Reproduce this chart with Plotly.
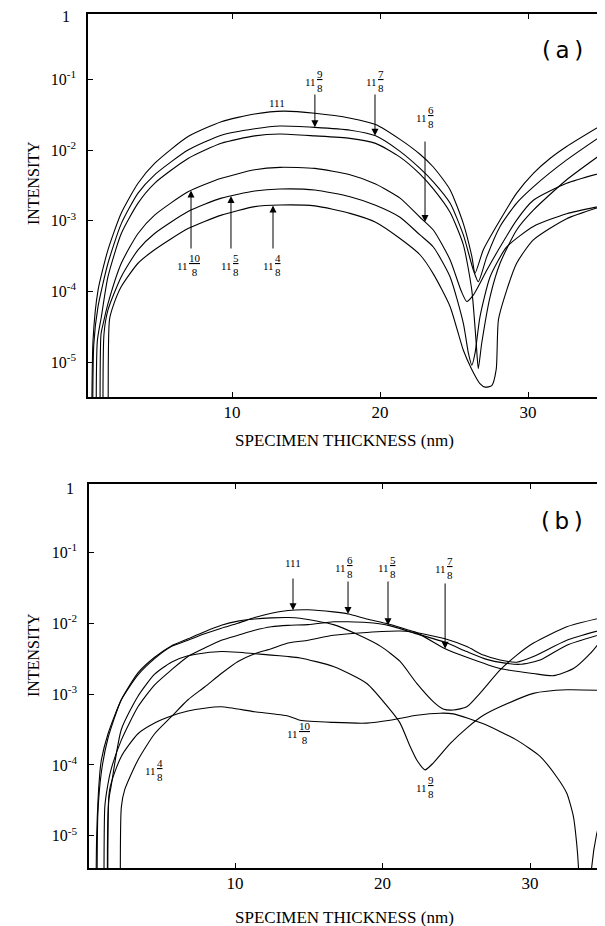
import numpy as np
import plotly.graph_objects as go

# ---------------- Panel (a): log10(intensity) vs specimen thickness (nm) ----------------
a_111_x = [0.50, 0.61, 0.95, 1.62, 2.52, 3.65, 4.77, 7.03, 9.28, 11.53, 13.5, 15.6, 18.0, 19.7, 21.35, 22.7, 23.6, 24.73, 25.63, 26.2, 26.42, 26.98, 28.11, 29.23, 30.36, 31.48, 32.61, 35.2]
a_111_log = [-7, -4.69, -3.98, -3.41, -2.89, -2.47, -2.19, -1.81, -1.60, -1.49, -1.45, -1.48, -1.55, -1.64, -1.85, -2.06, -2.24, -2.56, -3.04, -3.50, -3.74, -3.41, -2.99, -2.61, -2.33, -2.12, -1.95, -1.62]

a_98_x = [0.57, 0.66, 0.95, 1.62, 2.52, 3.65, 4.77, 7.03, 9.28, 11.53, 13.24, 15.6, 18.0, 19.7, 21.35, 22.7, 23.6, 24.73, 25.63, 26.31, 26.64, 27.21, 28.11, 29.23, 30.36, 32.61, 35.2]
a_98_log = [-7, -4.75, -4.21, -3.60, -3.04, -2.61, -2.35, -2.00, -1.79, -1.70, -1.66, -1.68, -1.72, -1.80, -2.02, -2.26, -2.45, -2.75, -3.20, -3.70, -3.86, -3.51, -3.08, -2.75, -2.52, -2.14, -1.765]

a_78_x = [0.83, 0.9, 1.17, 1.62, 2.52, 3.65, 4.77, 7.03, 9.28, 11.53, 13.24, 15.6, 17.97, 19.7, 21.35, 22.7, 23.6, 24.73, 25.63, 26.2, 26.5, 26.64, 26.87, 27.44, 28.11, 29.23, 30.36, 32.61, 35.2]
a_78_log = [-7, -4.7, -4.36, -3.79, -3.18, -2.75, -2.47, -2.12, -1.905, -1.80, -1.774, -1.80, -1.835, -1.906, -2.10, -2.34, -2.55, -2.88, -3.34, -3.98, -4.73, -5.09, -4.73, -4.07, -3.60, -3.13, -2.85, -2.42, -2.02]

a_108_x = [1.1, 1.15, 1.3, 1.62, 2.52, 3.65, 4.77, 7.03, 9.28, 11.53, 13.24, 15.6, 17.97, 19.7, 21.35, 22.7, 23.6, 24.73, 25.5, 25.86, 26.3, 27.21, 28.11, 29.23, 30.36, 32.61, 35.2]
a_108_log = [-7, -4.6, -4.45, -4.17, -3.60, -3.18, -2.92, -2.59, -2.40, -2.28, -2.245, -2.26, -2.35, -2.48, -2.68, -2.95, -3.13, -3.55, -4.00, -4.14, -4.05, -3.70, -3.37, -2.99, -2.71, -2.47, -2.31]

a_58_x = [1.3, 1.35, 1.62, 2.52, 3.65, 4.77, 7.03, 9.28, 11.53, 13.24, 15.6, 17.97, 19.7, 21.35, 22.7, 23.6, 24.73, 25.63, 25.97, 26.2, 26.42, 26.75, 27.44, 28.56, 30.36, 32.61, 35.2]
a_58_log = [-7, -4.6, -4.26, -3.79, -3.41, -3.18, -2.87, -2.68, -2.58, -2.551, -2.565, -2.66, -2.78, -2.95, -3.20, -3.37, -3.79, -4.45, -4.87, -5.04, -4.87, -4.36, -3.79, -3.37, -3.08, -2.90, -2.78]

a_48_x = [1.67, 1.72, 1.96, 2.52, 3.65, 4.77, 7.03, 9.28, 11.53, 13.24, 15.6, 17.97, 19.7, 21.35, 22.7, 23.6, 24.73, 25.63, 26.2, 26.75, 27.1, 27.55, 27.85, 28.0, 28.56, 29.23, 30.36, 32.61, 35.2]
a_48_log = [-7, -4.4, -4.21, -3.93, -3.60, -3.41, -3.11, -2.92, -2.80, -2.777, -2.79, -2.895, -3.02, -3.25, -3.48, -3.75, -4.21, -4.83, -5.10, -5.30, -5.35, -5.33, -5.10, -4.40, -3.98, -3.60, -3.27, -2.97, -2.78]

# ---------------- Panel (b) ----------------
b_111_x = [0.56, 0.62, 0.83, 0.94, 1.39, 2.29, 3.42, 4.55, 5.68, 6.81, 7.94, 9.07, 10.2, 11.33, 12.46, 13.59, 14.95, 16.67, 17.68, 18.93, 20.4, 22.32, 24.24, 25.71, 26.84, 27.97, 29.1, 30.23, 32.49, 35.09]
b_111_log = [-7, -5.0, -4.12, -3.93, -3.56, -3.08, -2.73, -2.50, -2.33, -2.24, -2.15, -2.07, -2.00, -1.92, -1.86, -1.82, -1.81, -1.84, -1.87, -1.94, -2.01, -2.13, -2.22, -2.33, -2.45, -2.52, -2.55, -2.47, -2.24, -2.08]

b_68_x = [0.64, 0.7, 0.94, 1.39, 2.29, 3.42, 4.55, 5.68, 6.81, 7.94, 9.07, 10.2, 11.33, 12.46, 13.59, 14.41, 16.67, 18.2, 19.9, 21.19, 22.32, 23.45, 24.1, 24.8, 25.71, 26.6, 27.97, 29.1, 30.23, 32.49, 35.09]
b_68_log = [-7, -4.7, -4.10, -3.62, -3.08, -2.70, -2.48, -2.32, -2.22, -2.12, -2.03, -1.97, -1.94, -1.925, -1.92, -1.93, -2.02, -2.15, -2.33, -2.54, -2.85, -3.11, -3.21, -3.225, -3.18, -2.99, -2.66, -2.45, -2.28, -2.05, -1.91]

b_58_x = [1.12, 1.17, 1.32, 1.59, 2.29, 3.42, 4.55, 5.68, 6.81, 7.94, 9.07, 10.2, 11.33, 12.46, 13.59, 14.95, 16.67, 17.68, 18.93, 20.4, 22.32, 24.24, 25.71, 27.06, 28.2, 29.32, 30.68, 32.49, 35.09]
b_58_log = [-7, -4.6, -4.35, -4.07, -3.65, -3.18, -2.87, -2.66, -2.47, -2.35, -2.24, -2.17, -2.10, -2.05, -2.03, -2.02, -1.98, -1.98, -1.99, -2.03, -2.15, -2.27, -2.40, -2.51, -2.56, -2.58, -2.52, -2.31, -2.14]

b_48_x = [2.25, 2.29, 2.52, 3.42, 4.55, 5.68, 6.81, 7.94, 9.07, 10.2, 11.33, 12.46, 13.59, 14.95, 16.67, 18.93, 21.19, 22.32, 24.24, 25.71, 27.97, 30.23, 31.59, 32.94, 34.07, 35.09]
b_48_log = [-7, -4.6, -4.35, -3.93, -3.56, -3.32, -3.08, -2.90, -2.71, -2.54, -2.43, -2.36, -2.28, -2.24, -2.17, -2.13, -2.11, -2.14, -2.36, -2.48, -2.64, -2.71, -2.74, -2.64, -2.43, -2.17]

b_98_x = [1.38, 1.44, 1.6, 2.29, 3.42, 4.55, 5.68, 6.81, 7.94, 9.07, 10.2, 11.33, 12.46, 13.59, 14.41, 16.67, 18.93, 20.51, 21.19, 21.87, 22.32, 22.88, 23.45, 24.58, 25.71, 26.84, 27.97, 30.23, 32.49, 35.09]
b_98_log = [-7, -4.5, -4.3, -3.50, -3.03, -2.72, -2.55, -2.46, -2.42, -2.40, -2.41, -2.43, -2.45, -2.47, -2.49, -2.61, -2.85, -3.22, -3.41, -3.74, -3.93, -4.07, -3.97, -3.70, -3.48, -3.30, -3.18, -2.99, -2.94, -2.95]

b_108_x = [1.42, 1.5, 2.29, 3.42, 4.55, 5.68, 6.81, 7.94, 9.07, 11.33, 13.59, 14.41, 16.67, 18.93, 20.51, 22.32, 23.9, 24.8, 26.84, 29.1, 30.68, 31.81, 32.49, 32.94, 33.16, 33.28, 33.65, 34.18, 34.52, 35.09]
b_108_log = [-7, -4.35, -3.88, -3.56, -3.41, -3.31, -3.24, -3.20, -3.18, -3.25, -3.31, -3.37, -3.40, -3.41, -3.37, -3.30, -3.27, -3.28, -3.42, -3.65, -3.88, -4.17, -4.40, -4.73, -5.11, -5.44, -8, -5.44, -4.97, -4.54]

x_ticks = [10, 20, 30]
y_tick_exp = [-1, -2, -3, -4, -5]

# ---------------- figure ----------------
SERIF = "Liberation Serif, Times New Roman, serif"
OFF = 8                      # default page (body) margin of the written html
PAGE_W, PAGE_H = 605, 926
W, H = PAGE_W - OFF, PAGE_H - OFF
fig = go.Figure()


def fx(px):  # page pixel -> paper fraction
    return (px - OFF) / W


def fy(py):
    return 1 - (py - OFF) / H


panels = {
    "a": dict(xa="x", ya="y", curves=[a_111_x, a_111_log, a_98_x, a_98_log, a_78_x, a_78_log,
                                       a_108_x, a_108_log, a_58_x, a_58_log, a_48_x, a_48_log]),
    "b": dict(xa="x2", ya="y2", curves=[b_111_x, b_111_log, b_68_x, b_68_log, b_58_x, b_58_log,
                                       b_48_x, b_48_log, b_98_x, b_98_log, b_108_x, b_108_log]),
}
for p in panels.values():
    c = p["curves"]
    for i in range(0, len(c), 2):
        fig.add_trace(go.Scatter(
            x=c[i], y=[10 ** v for v in c[i + 1]], mode="lines",
            line=dict(color="black", width=1.1, shape="spline", smoothing=0.6),
            xaxis=p["xa"], yaxis=p["ya"], showlegend=False, hoverinfo="skip"))

# page-pixel geometry of the two frames
a_px = dict(l=88, t=14, b=397)
b_px = dict(l=89, t=484, b=868)
a_yr = [-5.49, -0.078]
b_yr = [-5.455, -0.035]
a_xr = [0.27, 35.2]
b_xr = [0.1, 35.08]


def yaxis_cfg(pxd, yr):
    return dict(
        type="log", range=yr, domain=[fy(pxd["b"]), fy(pxd["t"])], automargin=False,
        tickvals=[10.0 ** e for e in y_tick_exp],
        ticktext=[f"10<sup>{e}</sup>" for e in y_tick_exp],
        ticks="inside", ticklen=5, tickwidth=1, tickcolor="black",
        showline=True, linecolor="black", linewidth=1.5, mirror="ticks",
        showgrid=False, zeroline=False, ticklabelstandoff=7, ticklabeloverflow="allow",
        tickfont=dict(family=SERIF, size=16, color="black"))


def xaxis_cfg(pxd, xr, anchor):
    return dict(
        range=xr, domain=[fx(pxd["l"]), 1], anchor=anchor, automargin=False,
        tickvals=x_ticks, ticktext=[str(v) for v in x_ticks],
        ticks="inside", ticklen=5, tickwidth=1, tickcolor="black",
        showline=True, linecolor="black", linewidth=1.5, mirror="ticks",
        showgrid=False, zeroline=False, ticklabelstandoff=-1, ticklabeloverflow="allow",
        tickfont=dict(family=SERIF, size=17, color="black"))


fig.update_layout(
    width=W, height=H, margin=dict(l=0, r=0, t=0, b=0, pad=0, autoexpand=False),
    paper_bgcolor="white", plot_bgcolor="white",
    xaxis=xaxis_cfg(a_px, a_xr, "y"), yaxis=yaxis_cfg(a_px, a_yr) | dict(anchor="x"),
    xaxis2=xaxis_cfg(b_px, b_xr, "y2"), yaxis2=yaxis_cfg(b_px, b_yr) | dict(anchor="x2"),
)


def paper_text(px, py, txt, size, family=SERIF, angle=0):
    fig.add_annotation(x=fx(px), y=fy(py), xref="paper", yref="paper", text=txt, textangle=angle,
                       xanchor="center", yanchor="middle", showarrow=False, borderpad=0,
                       font=dict(family=family, size=size, color="black"))


# axis titles, top "1" labels and panel letters (page pixel positions)
for ycen, xt_y, one_x, one_y, letter, ly in [(183, 440, 66, 17, "(\u2009a\u2009)", 50),
                                             (655, 917, 70, 488, "(\u2009b\u2009)", 521)]:
    paper_text(33, ycen, "INTENSITY", 16, angle=-90)
    paper_text(344, xt_y, "SPECIMEN THICKNESS (nm)", 17)
    paper_text(one_x, one_y, "1", 16)
    paper_text(562, ly, letter, 23, family="DejaVu Sans, sans-serif")


def plain(xref, yref, x, logy, txt):
    fig.add_annotation(x=x, y=logy, xref=xref, yref=yref, text=txt, showarrow=False, borderpad=0,
                       font=dict(family=SERIF, size=11, color="black"))


def frac(xref, yref, x, logy, num, den):
    fig.add_annotation(x=x, y=logy, xref=xref, yref=yref, text="11", showarrow=False,
                       xanchor="right", yanchor="middle", xshift=1, yshift=-1, borderpad=0,
                       font=dict(family=SERIF, size=11, color="black"))
    fig.add_annotation(x=x, y=logy, xref=xref, yref=yref, text=f"<u>{num}</u><br>{den}",
                       showarrow=False, xanchor="left", yanchor="middle", xshift=0, align="center",
                       borderpad=0, font=dict(family=SERIF, size=11, color="black"))


def arrow(xref, yref, x, tail, cx, clog):
    tip = float(np.interp(x, cx, clog))
    fig.add_annotation(x=x, y=tip, ax=x, ay=tail, xref=xref, yref=yref, axref=xref, ayref=yref,
                       text="", showarrow=True, arrowhead=2, arrowsize=1.4, arrowwidth=1,
                       arrowcolor="black", standoff=0, startstandoff=0)


# panel (a) labels
plain("x", "y", 13.04, -1.336, "111")
frac("x", "y", 15.68, -1.025, "9", "8")
frac("x", "y", 19.8, -1.025, "7", "8")
frac("x", "y", 23.18, -1.534, "6", "8")
frac("x", "y", 7.03, -3.625, "10", "8")
frac("x", "y", 10.0, -3.625, "5", "8")
frac("x", "y", 12.84, -3.625, "4", "8")
arrow("x", "y", 15.6, -1.194, a_98_x, a_98_log)
arrow("x", "y", 19.66, -1.194, a_98_x, a_98_log)
arrow("x", "y", 23.04, -1.859, a_108_x, a_108_log)
arrow("x", "y", 7.23, -3.413, a_108_x, a_108_log)
arrow("x", "y", 9.93, -3.413, a_58_x, a_58_log)
arrow("x", "y", 12.77, -3.413, a_48_x, a_48_log)

# panel (b) labels
plain("x2", "y2", 13.93, -1.15, "111")
frac("x2", "y2", 17.53, -1.207, "6", "8")
frac("x2", "y2", 20.44, -1.207, "5", "8")
frac("x2", "y2", 24.3, -1.221, "7", "8")
frac("x2", "y2", 14.27, -3.55, "10", "8")
frac("x2", "y2", 23.0, -4.31, "9", "8")
frac("x2", "y2", 4.64, -4.07, "4", "8")
arrow("x2", "y2", 13.93, -1.348, b_111_x, b_111_log)
arrow("x2", "y2", 17.66, -1.39, b_111_x, b_111_log)
arrow("x2", "y2", 20.37, -1.39, b_58_x, b_58_log)
arrow("x2", "y2", 24.24, -1.418, b_48_x, b_48_log)

fig.write_html("out.html")
